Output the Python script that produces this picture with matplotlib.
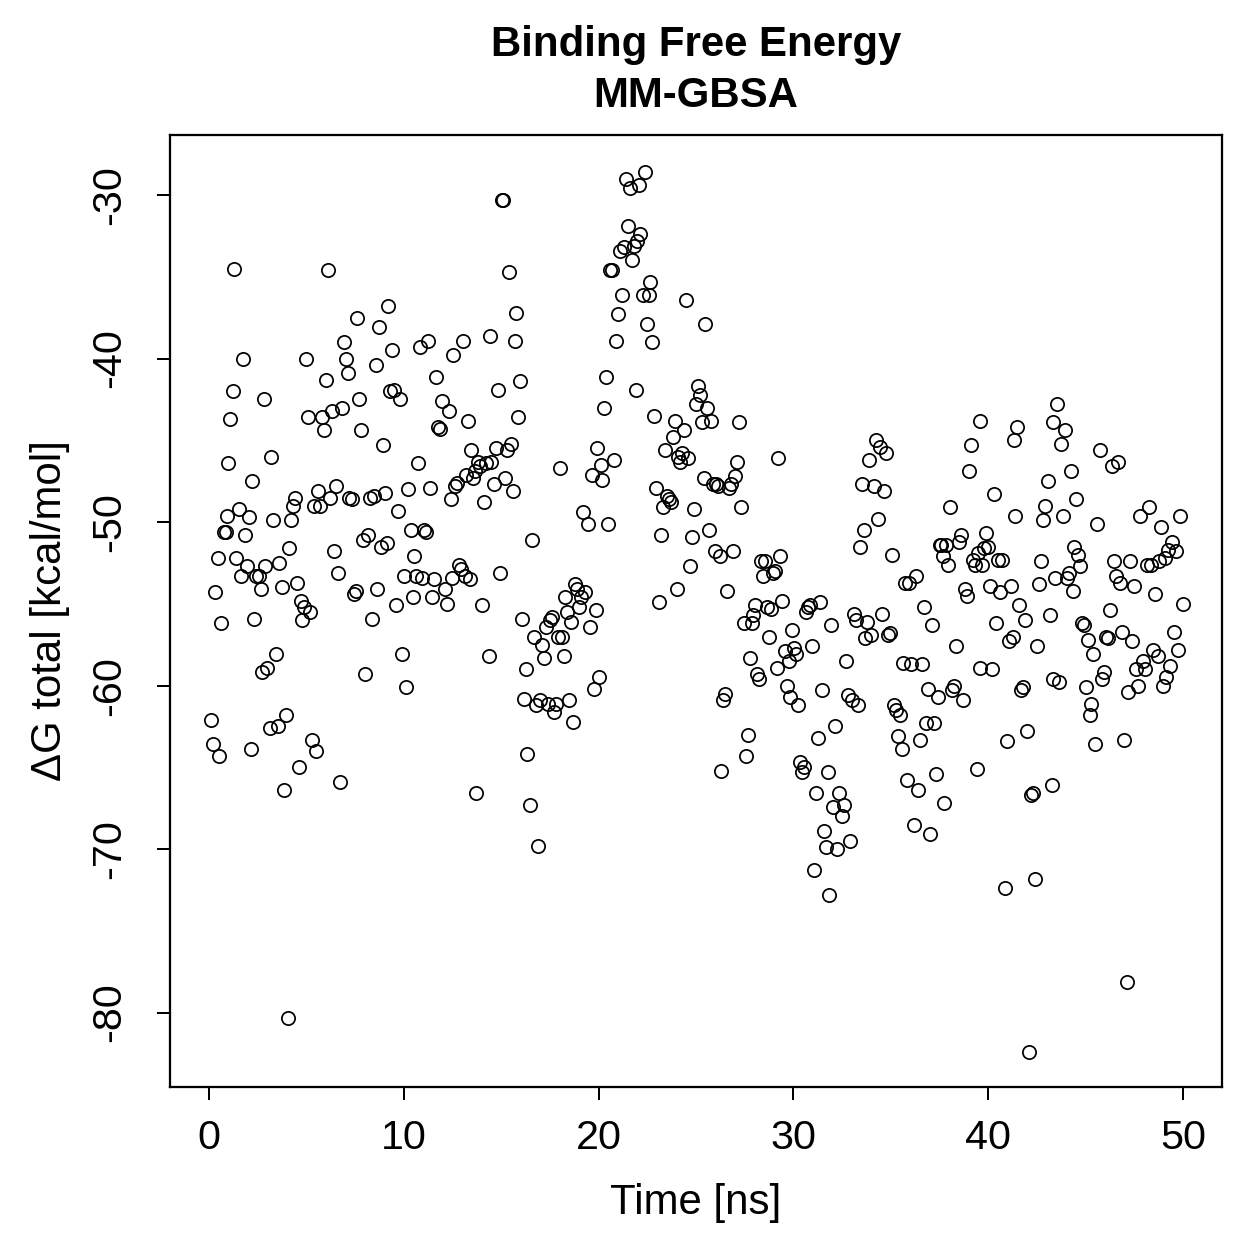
import matplotlib
matplotlib.use("Agg")
import matplotlib.pyplot as plt

time_ns = [0.1, 0.2, 0.3, 0.45, 0.5, 0.6, 0.75, 0.85, 0.95, 1.0, 1.1, 1.25, 1.3, 1.4, 1.55, 1.65, 1.75, 1.85, 1.95, 2.05,
           2.15, 2.2, 2.3, 2.4, 2.55, 2.65, 2.7, 2.8, 2.9, 3.0, 3.15, 3.2, 3.3, 3.45, 3.55, 3.6, 3.75, 3.85, 3.95, 4.05,
           4.1, 4.2, 4.3, 4.4, 4.5, 4.6, 4.7, 4.8, 4.9, 5.0, 5.1, 5.2, 5.3, 5.4, 5.5, 5.6, 5.7, 5.8, 5.9, 6.0,
           6.1, 6.2, 6.3, 6.4, 6.5, 6.6, 6.75, 6.85, 6.95, 7.05, 7.15, 7.2, 7.35, 7.45, 7.55, 7.6, 7.7, 7.8, 7.9, 8.0,
           8.15, 8.25, 8.35, 8.45, 8.55, 8.65, 8.75, 8.85, 8.95, 9.05, 9.15, 9.2, 9.3, 9.4, 9.5, 9.6, 9.7, 9.8, 9.9, 10.0,
           10.1, 10.2, 10.35, 10.45, 10.55, 10.65, 10.75, 10.85, 10.95, 11.05, 11.15, 11.25, 11.35, 11.45, 11.55, 11.65, 11.75, 11.85, 11.95, 12.1,
           12.2, 12.3, 12.4, 12.5, 12.55, 12.65, 12.75, 12.85, 12.95, 13.05, 13.15, 13.2, 13.3, 13.4, 13.45, 13.55, 13.65, 13.7, 13.8, 13.9,
           14.0, 14.1, 14.2, 14.35, 14.45, 14.5, 14.65, 14.75, 14.85, 14.95, 15.05, 15.1, 15.2, 15.3, 15.4, 15.5, 15.6, 15.7, 15.75, 15.85,
           15.95, 16.05, 16.15, 16.25, 16.35, 16.5, 16.6, 16.7, 16.8, 16.9, 17.0, 17.1, 17.2, 17.3, 17.4, 17.5, 17.6, 17.7, 17.8, 17.9,
           18.0, 18.1, 18.2, 18.3, 18.4, 18.5, 18.6, 18.7, 18.8, 18.9, 19.0, 19.1, 19.2, 19.3, 19.45, 19.55, 19.65, 19.75, 19.85, 19.9,
           20.0, 20.1, 20.2, 20.3, 20.4, 20.5, 20.6, 20.7, 20.8, 20.9, 21.0, 21.1, 21.2, 21.3, 21.4, 21.5, 21.6, 21.7, 21.8, 21.9,
           21.95, 22.05, 22.15, 22.3, 22.4, 22.5, 22.6, 22.65, 22.75, 22.85, 22.95, 23.1, 23.2, 23.3, 23.4, 23.5, 23.6, 23.7, 23.8, 23.9,
           24.0, 24.1, 24.2, 24.3, 24.4, 24.5, 24.6, 24.7, 24.8, 24.9, 25.0, 25.1, 25.2, 25.3, 25.4, 25.45, 25.55, 25.65, 25.75, 25.85,
           25.95, 26.05, 26.15, 26.25, 26.3, 26.4, 26.5, 26.6, 26.7, 26.8, 26.9, 27.0, 27.1, 27.2, 27.3, 27.45, 27.55, 27.65, 27.75, 27.85,
           27.95, 28.05, 28.15, 28.25, 28.35, 28.45, 28.55, 28.65, 28.75, 28.85, 28.95, 29.05, 29.15, 29.2, 29.3, 29.4, 29.55, 29.65, 29.75, 29.8,
           29.95, 30.05, 30.15, 30.25, 30.35, 30.45, 30.55, 30.65, 30.75, 30.85, 30.95, 31.05, 31.15, 31.25, 31.35, 31.45, 31.55, 31.65, 31.75, 31.85,
           31.95, 32.05, 32.15, 32.25, 32.35, 32.5, 32.6, 32.7, 32.8, 32.9, 33.0, 33.1, 33.2, 33.3, 33.4, 33.5, 33.6, 33.7, 33.8, 33.9,
           34.0, 34.15, 34.25, 34.35, 34.45, 34.55, 34.65, 34.75, 34.85, 34.95, 35.05, 35.15, 35.25, 35.35, 35.45, 35.55, 35.65, 35.75, 35.85, 35.95,
           36.05, 36.2, 36.3, 36.4, 36.5, 36.6, 36.7, 36.8, 36.9, 37.0, 37.1, 37.2, 37.3, 37.4, 37.5, 37.6, 37.7, 37.75, 37.85, 37.95,
           38.05, 38.15, 38.25, 38.35, 38.5, 38.6, 38.7, 38.8, 38.9, 39.0, 39.1, 39.2, 39.3, 39.4, 39.5, 39.6, 39.6, 39.7, 39.8, 39.9,
           40.0, 40.1, 40.2, 40.3, 40.4, 40.5, 40.6, 40.7, 40.85, 40.95, 41.05, 41.15, 41.25, 41.3, 41.4, 41.5, 41.6, 41.7, 41.8, 41.9,
           42.0, 42.1, 42.2, 42.3, 42.4, 42.5, 42.6, 42.7, 42.8, 42.9, 43.05, 43.15, 43.25, 43.35, 43.35, 43.45, 43.55, 43.65, 43.75, 43.85,
           43.95, 44.05, 44.15, 44.25, 44.35, 44.4, 44.5, 44.6, 44.7, 44.8, 44.9, 45.0, 45.1, 45.2, 45.3, 45.4, 45.5, 45.6, 45.75, 45.85,
           45.95, 46.05, 46.15, 46.25, 46.35, 46.45, 46.55, 46.65, 46.75, 46.85, 46.95, 47.1, 47.2, 47.3, 47.4, 47.5, 47.6, 47.7, 47.8, 47.95,
           48.05, 48.15, 48.25, 48.35, 48.45, 48.55, 48.7, 48.75, 48.85, 48.95, 49.05, 49.15, 49.25, 49.35, 49.45, 49.55, 49.65, 49.75, 49.85, 50.0]

dg_total = [-62.1, -63.6, -54.3, -52.2, -64.3, -56.2, -50.6, -50.6, -49.6, -46.4, -43.7, -42.0, -34.5, -52.2, -49.2, -53.3, -40.0, -50.8, -52.7, -49.7,
            -63.9, -47.5, -55.9, -53.3, -53.3, -54.1, -59.2, -42.5, -52.7, -58.9, -62.6, -46.0, -49.9, -58.1, -62.5, -52.5, -54.0, -66.4, -61.8, -80.3,
            -51.6, -49.9, -49.0, -48.5, -53.7, -65.0, -54.8, -56.0, -55.2, -40.0, -43.6, -55.5, -63.3, -49.0, -64.0, -48.1, -49.0, -43.6, -44.4, -41.3,
            -34.6, -48.5, -43.2, -51.8, -47.8, -53.1, -65.9, -43.0, -39.0, -40.0, -40.9, -48.5, -48.6, -54.4, -54.2, -37.5, -42.5, -44.4, -51.1, -59.3,
            -50.8, -48.5, -55.9, -48.4, -40.4, -54.1, -38.1, -51.5, -45.3, -48.2, -51.3, -36.8, -42.0, -39.5, -41.9, -55.1, -49.3, -42.5, -58.1, -53.3,
            -60.1, -48.0, -50.5, -54.6, -52.1, -53.3, -46.4, -39.3, -53.4, -50.5, -50.6, -38.9, -47.9, -54.6, -53.5, -41.1, -44.2, -44.3, -42.6, -54.1,
            -55.0, -43.2, -48.6, -53.4, -39.8, -47.8, -47.6, -52.6, -52.9, -38.9, -53.3, -47.1, -43.8, -53.5, -45.6, -47.3, -46.9, -66.6, -46.3, -46.6,
            -55.1, -48.8, -46.4, -58.2, -38.6, -46.3, -47.7, -45.5, -41.9, -53.1, -30.3, -30.3, -47.3, -45.6, -34.7, -45.2, -48.1, -38.9, -37.2, -43.6,
            -41.4, -55.9, -60.8, -59.0, -64.2, -67.3, -51.1, -57.0, -61.2, -69.8, -60.9, -57.5, -58.3, -56.4, -61.1, -56.0, -55.8, -61.6, -61.1, -57.0,
            -46.7, -57.0, -58.2, -54.6, -55.5, -60.9, -56.1, -62.2, -53.8, -54.1, -55.2, -54.6, -49.4, -54.3, -50.1, -56.4, -47.1, -60.2, -55.4, -45.5,
            -59.5, -46.5, -47.4, -43.0, -41.1, -50.1, -34.6, -34.6, -46.2, -38.9, -37.3, -33.4, -36.1, -33.2, -29.0, -31.9, -29.6, -34.0, -33.1, -41.9,
            -32.8, -29.4, -32.4, -36.1, -28.6, -37.9, -36.1, -35.3, -39.0, -43.5, -47.9, -54.9, -50.8, -49.1, -45.6, -48.4, -48.6, -48.8, -44.8, -43.8,
            -54.1, -46.0, -46.3, -45.8, -44.4, -36.4, -46.1, -52.7, -50.9, -49.2, -42.8, -41.7, -42.2, -43.9, -47.3, -37.9, -43.0, -50.5, -43.8, -47.7,
            -51.8, -47.7, -47.8, -52.1, -65.2, -60.9, -60.5, -54.2, -47.9, -47.7, -51.8, -47.2, -46.3, -43.9, -49.1, -56.2, -64.3, -63.0, -58.3, -56.2,
            -55.7, -55.1, -59.3, -59.6, -52.4, -53.3, -52.4, -55.2, -57.0, -55.3, -53.1, -53.0, -58.9, -46.1, -52.1, -54.8, -57.9, -60.0, -58.5, -60.7,
            -56.6, -57.7, -58.1, -61.2, -64.7, -65.3, -65.0, -55.5, -55.2, -55.1, -57.6, -71.3, -66.6, -63.2, -54.9, -60.3, -68.9, -69.9, -65.3, -72.8,
            -56.3, -67.4, -62.5, -70.0, -66.6, -68.0, -67.3, -58.5, -60.6, -69.5, -60.9, -55.6, -56.0, -61.2, -51.5, -47.7, -50.5, -57.1, -56.1, -46.2,
            -56.9, -47.8, -45.0, -49.8, -45.4, -55.6, -48.1, -45.8, -56.9, -56.8, -52.0, -61.2, -61.5, -63.1, -61.8, -63.9, -58.6, -53.7, -65.8, -53.7,
            -58.7, -68.5, -53.3, -66.4, -63.3, -58.7, -55.2, -62.3, -60.2, -69.1, -56.3, -62.3, -65.4, -60.7, -51.4, -51.4, -52.1, -67.2, -51.4, -52.6,
            -49.1, -60.3, -60.0, -57.6, -51.2, -50.8, -60.9, -54.1, -54.5, -46.9, -45.3, -52.3, -52.6, -65.1, -51.9, -58.9, -43.8, -52.6, -51.6, -50.7,
            -51.5, -53.9, -59.0, -48.3, -56.2, -52.3, -54.3, -52.3, -72.4, -63.4, -57.3, -53.9, -57.0, -45.0, -49.6, -44.2, -55.1, -60.3, -60.1, -56.0,
            -62.8, -82.4, -66.7, -66.6, -71.8, -57.6, -53.8, -52.4, -49.9, -49.0, -47.5, -55.7, -66.1, -59.6, -43.9, -53.4, -42.8, -59.8, -45.2, -49.6,
            -44.4, -53.4, -53.1, -46.9, -54.2, -51.5, -48.6, -52.0, -52.7, -56.2, -56.3, -60.1, -57.2, -61.8, -61.1, -58.1, -63.6, -50.1, -45.6, -59.6,
            -59.2, -57.0, -57.1, -55.4, -46.6, -52.4, -53.3, -46.3, -53.7, -56.7, -63.3, -78.1, -60.4, -52.4, -57.3, -53.9, -59.0, -60.0, -49.6, -58.5,
            -59.0, -52.6, -49.1, -52.6, -57.8, -54.4, -58.2, -52.4, -50.3, -60.0, -52.2, -59.5, -51.7, -58.8, -51.2, -56.7, -51.8, -57.8, -49.6, -55.0]

x_ticks = [0, 10, 20, 30, 40, 50]
y_ticks = [-80, -70, -60, -50, -40, -30]

plt.rcParams['font.family'] = ['Liberation Sans', 'DejaVu Sans']

fig = plt.figure(figsize=(1259 / 180, 1259 / 180), dpi=180)
ax = fig.add_axes([170 / 1259, 1 - 1087 / 1259, (1222 - 170) / 1259, (1087 - 135) / 1259])

ax.plot(time_ns, dg_total, linestyle='none', marker='o', markersize=5.3,
        markerfacecolor='none', markeredgecolor='black', markeredgewidth=0.7)

ax.set_xlim(-2, 52)
ax.set_ylim(-84.55, -26.33)
ax.set_xticks(x_ticks)
ax.set_yticks(y_ticks)
ax.set_xticklabels([str(v) for v in x_ticks])
ax.set_yticklabels([str(v) for v in y_ticks], rotation=90, va='center')
ax.tick_params(direction='out', length=5.2, width=0.8, labelsize=16.5)
ax.tick_params(axis='x', pad=7.5)
ax.tick_params(axis='y', pad=11.5)
for s in ax.spines.values():
    s.set_linewidth(0.9)

ax.set_xlabel('Time [ns]', fontsize=16.8)
ax.set_ylabel('ΔG total [kcal/mol]', fontsize=16.8)
ax.xaxis.set_label_coords(0.5, (1087 - 1183) / 952)
ax.yaxis.set_label_coords((70 - 170) / 1052, 0.5)

cx = (170 + 1222) / 2 / 1259
fig.text(cx, 1 - 45 / 1259, 'Binding Free Energy', ha='center', va='center', fontsize=16.8, fontweight='bold')
fig.text(cx, 1 - 96 / 1259, 'MM-GBSA', ha='center', va='center', fontsize=16.8, fontweight='bold')

fig.savefig('out.png', dpi=180)
